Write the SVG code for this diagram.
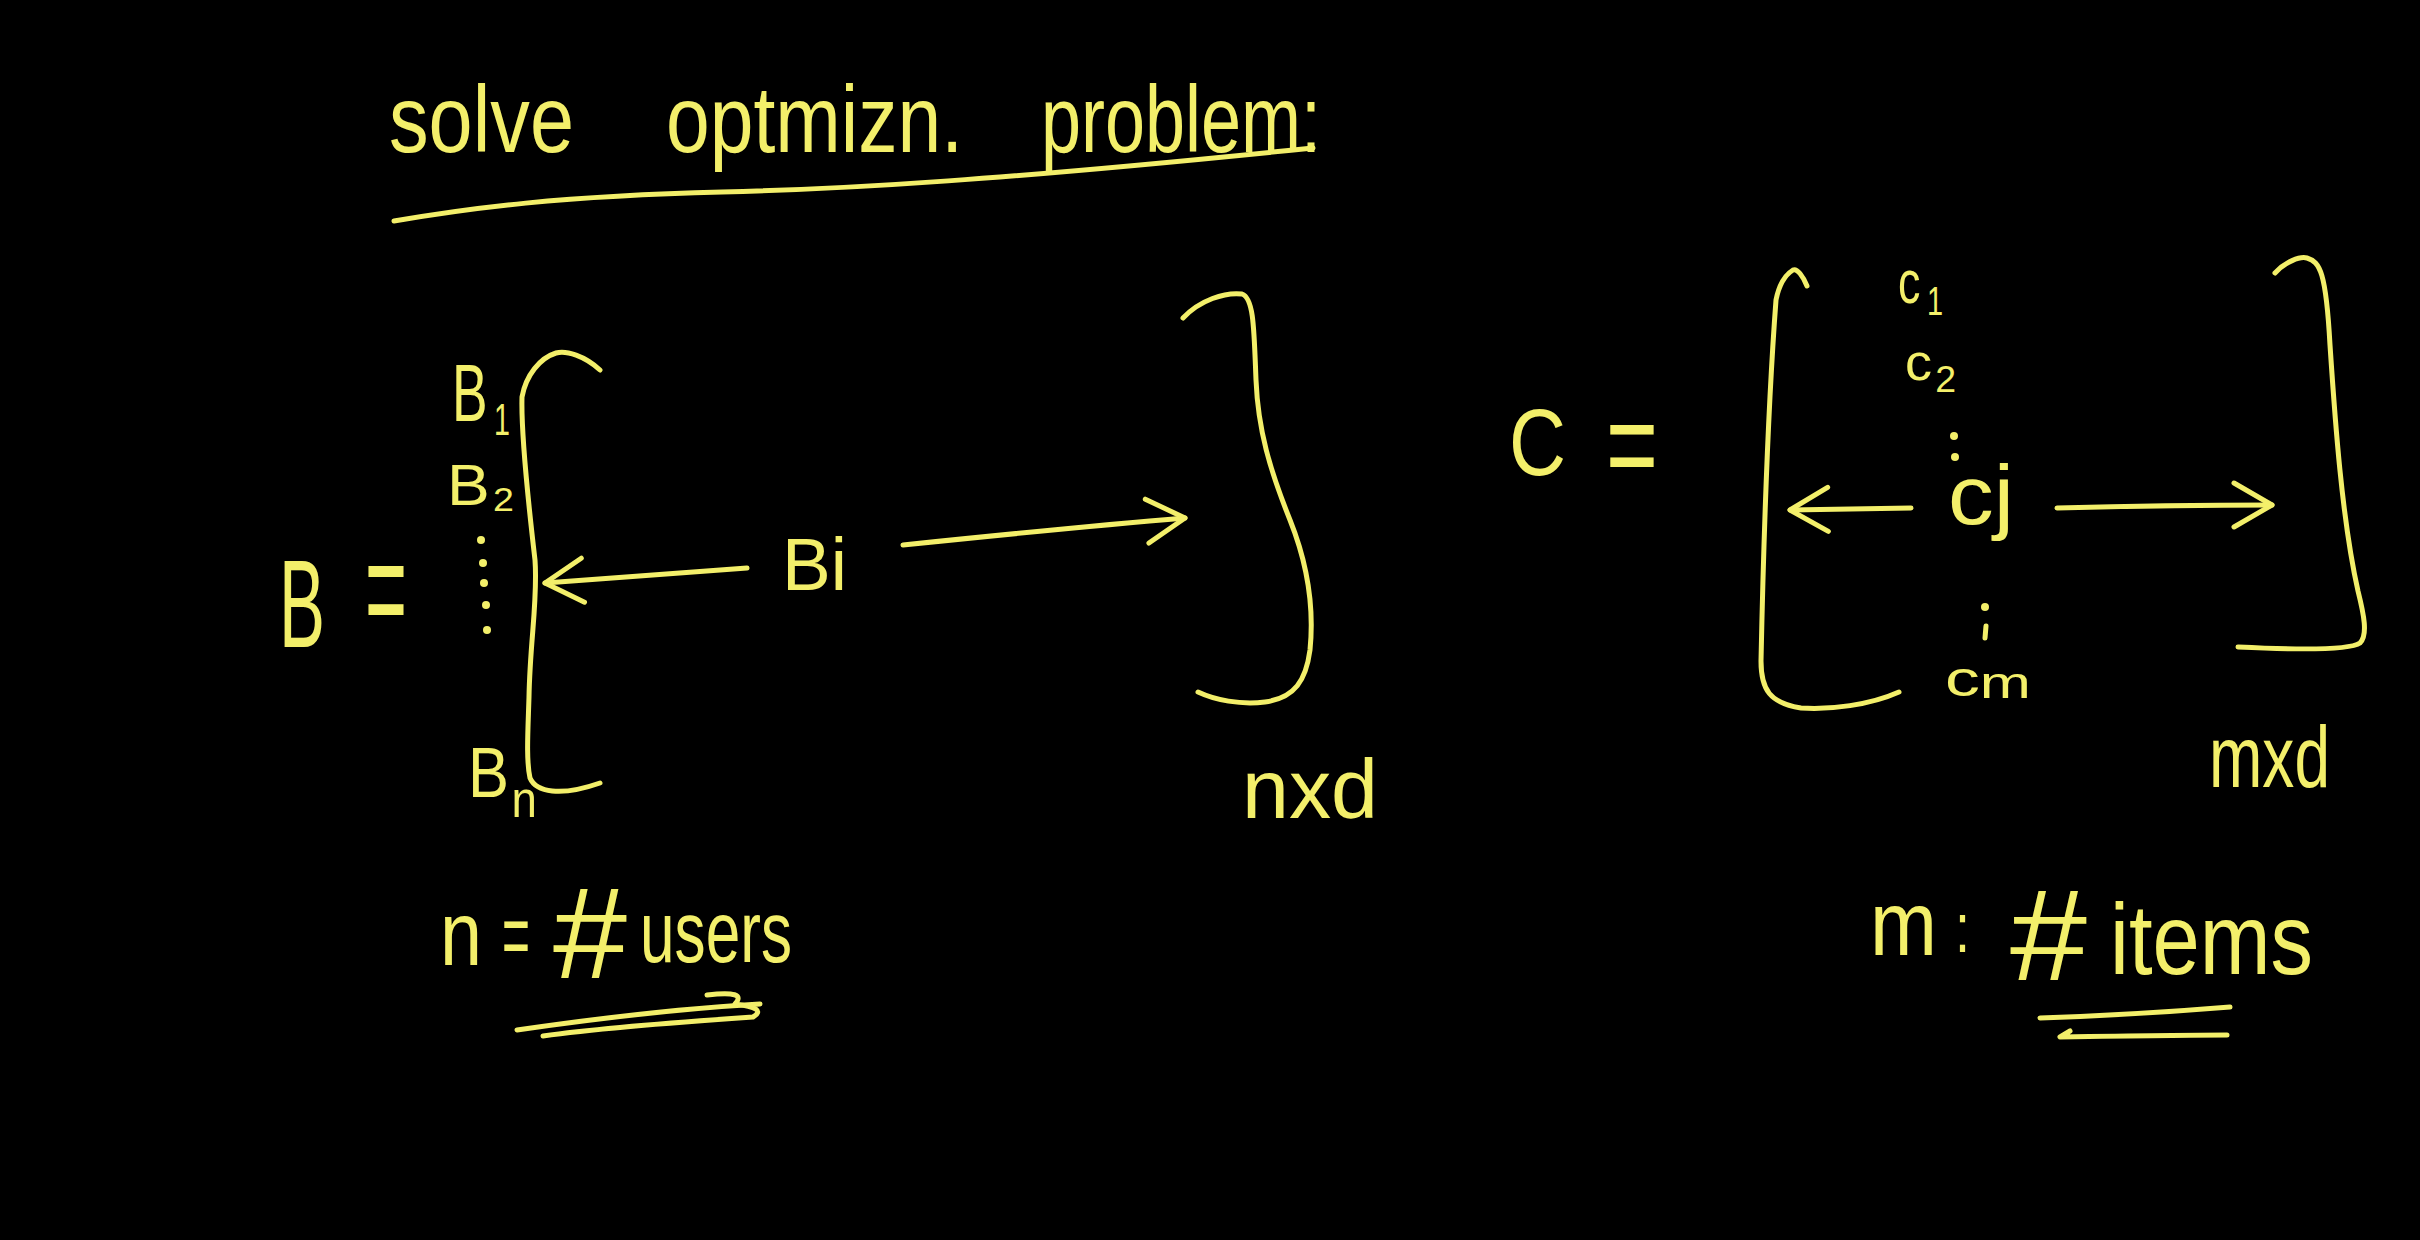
<svg xmlns="http://www.w3.org/2000/svg" width="2420" height="1240" viewBox="0 0 2420 1240">
<style>
.ink{fill:none;stroke:#f3ef6a;stroke-width:5;stroke-linecap:round;stroke-linejoin:round}
.t{fill:#f3ef6a;font-family:"Liberation Sans",Arial,sans-serif}
.dot{fill:#f3ef6a}
</style>
<defs>
<marker id="chev" markerUnits="userSpaceOnUse" markerWidth="50" markerHeight="60" viewBox="-44 -30 50 60" refX="0" refY="0" orient="auto">
<path d="M-38,-22 L0,0 L-38,22" fill="none" stroke="#f3ef6a" stroke-width="5" stroke-linecap="round" stroke-linejoin="round"/>
</marker>
</defs>
<rect width="2420" height="1240" fill="#000"/>

<g id="title">
<text class="t" x="389" y="152" font-size="94" textLength="185" lengthAdjust="spacingAndGlyphs">solve</text>
<text class="t" x="666" y="152" font-size="94" textLength="297" lengthAdjust="spacingAndGlyphs">optmizn.</text>
<text class="t" x="1041" y="152" font-size="94" textLength="280" lengthAdjust="spacingAndGlyphs">problem:</text>
<path class="ink" d="M394,221 C470,208 560,196 722,192 C850,189 1000,180 1313,148"/>
</g>

<g id="matrix-B">
<text class="t" x="279" y="647" font-size="125" textLength="46" lengthAdjust="spacingAndGlyphs">B</text>
<text class="t" x="365" y="640" font-size="150" textLength="42" lengthAdjust="spacingAndGlyphs">=</text>
<text class="t" x="452" y="421" font-size="82" textLength="58" lengthAdjust="spacingAndGlyphs">B<tspan font-size="44" dx="10" dy="14">1</tspan></text>
<text class="t" x="447" y="505" font-size="58" textLength="67" lengthAdjust="spacingAndGlyphs">B<tspan font-size="34" dx="3" dy="6">2</tspan></text>
<circle class="dot" cx="481" cy="540" r="4"/>
<circle class="dot" cx="483" cy="563" r="4"/>
<circle class="dot" cx="484" cy="583" r="4"/>
<circle class="dot" cx="486" cy="605" r="4"/>
<circle class="dot" cx="487" cy="630" r="4"/>
<text class="t" x="468" y="797" font-size="70" textLength="69" lengthAdjust="spacingAndGlyphs">B<tspan font-size="52" dx="3" dy="20">n</tspan></text>
<path class="ink" d="M600,370 C585,356 566,350 556,353 C540,358 526,375 522,397 C521,430 528,500 535,560 C538,600 530,640 529,697 C528,730 526,760 530,778 C536,792 560,797 600,783"/>
<path class="ink" d="M1183,318 C1200,300 1225,292 1242,294 C1254,298 1254,330 1256,380 C1258,430 1270,470 1290,520 C1308,565 1314,610 1310,650 C1306,680 1295,698 1265,702 C1240,705 1215,700 1198,692"/>
<text class="t" x="782" y="590" font-size="74" textLength="65" lengthAdjust="spacingAndGlyphs">Bi</text>
<text class="t" x="1242" y="818" font-size="84" textLength="136" lengthAdjust="spacingAndGlyphs">nxd</text>
</g>

<g id="matrix-C">
<text class="t" x="1509" y="475" font-size="94" textLength="57" lengthAdjust="spacingAndGlyphs">C</text>
<text class="t" x="1606" y="489" font-size="130" textLength="52" lengthAdjust="spacingAndGlyphs">=</text>
<text class="t" x="1898" y="303" font-size="62" textLength="45" lengthAdjust="spacingAndGlyphs">c<tspan font-size="40" dx="9" dy="12">1</tspan></text>
<text class="t" x="1905" y="380" font-size="52" textLength="51" lengthAdjust="spacingAndGlyphs">c<tspan font-size="36" dx="3" dy="12">2</tspan></text>
<circle class="dot" cx="1954" cy="436" r="4"/>
<circle class="dot" cx="1955" cy="457" r="4"/>
<text class="t" x="1948" y="524" font-size="84" textLength="66" lengthAdjust="spacingAndGlyphs">cj</text>
<circle class="dot" cx="1985" cy="607" r="4"/>
<path class="ink" d="M1986,626 L1985,638"/>
<text class="t" x="1945" y="696" font-size="50" textLength="86" lengthAdjust="spacingAndGlyphs">c<tspan font-size="44" dy="2">m</tspan></text>
<path class="ink" d="M1807,286 C1803,276 1797,268 1793,270 C1785,275 1779,285 1776,300 C1770,380 1764,520 1761,661 C1761,690 1770,703 1801,708 C1830,710 1870,705 1899,692"/>
<path class="ink" d="M2275,273 C2285,262 2300,256 2307,258 C2320,262 2326,272 2330,345 C2335,420 2342,520 2358,591 C2364,615 2368,635 2360,643 C2350,650 2300,650 2238,647"/>
<text class="t" x="2209" y="787" font-size="88" textLength="121" lengthAdjust="spacingAndGlyphs">mxd</text>
</g>

<g id="label-users">
<text class="t" x="440" y="965" font-size="90" textLength="42" lengthAdjust="spacingAndGlyphs">n</text>
<text class="t" x="502" y="966" font-size="90" textLength="28" lengthAdjust="spacingAndGlyphs">=</text>
<text class="t" x="553" y="978" font-size="130" textLength="74" lengthAdjust="spacingAndGlyphs">#</text>
<text class="t" x="640" y="962" font-size="88" textLength="152" lengthAdjust="spacingAndGlyphs">users</text>
<path class="ink" d="M517,1030 C600,1018 690,1008 760,1004"/>
<path class="ink" d="M707,995 Q748,990 735,1004 Q768,1008 753,1017 C680,1022 600,1028 543,1036"/>
</g>

<g id="label-items">
<text class="t" x="1870" y="955" font-size="90" textLength="67" lengthAdjust="spacingAndGlyphs">m</text>
<text class="t" x="1955" y="952" font-size="70" textLength="15" lengthAdjust="spacingAndGlyphs">:</text>
<text class="t" x="2010" y="980" font-size="130" textLength="77" lengthAdjust="spacingAndGlyphs">#</text>
<text class="t" x="2110" y="974" font-size="100" textLength="203" lengthAdjust="spacingAndGlyphs">items</text>
<path class="ink" d="M2040,1018 C2100,1016 2170,1012 2230,1007"/>
<path class="ink" d="M2070,1031 L2060,1037 C2120,1036 2180,1035 2227,1035"/>
</g>

<g id="connectors">
<path class="ink" d="M747,568 L545,583" marker-end="url(#chev)"/>
<path class="ink" d="M903,545 C1000,535 1100,525 1185,518" marker-end="url(#chev)"/>
<path class="ink" d="M1911,508 L1790,510" marker-end="url(#chev)"/>
<path class="ink" d="M2057,508 C2130,506 2200,505 2272,505" marker-end="url(#chev)"/>
</g>
</svg>
